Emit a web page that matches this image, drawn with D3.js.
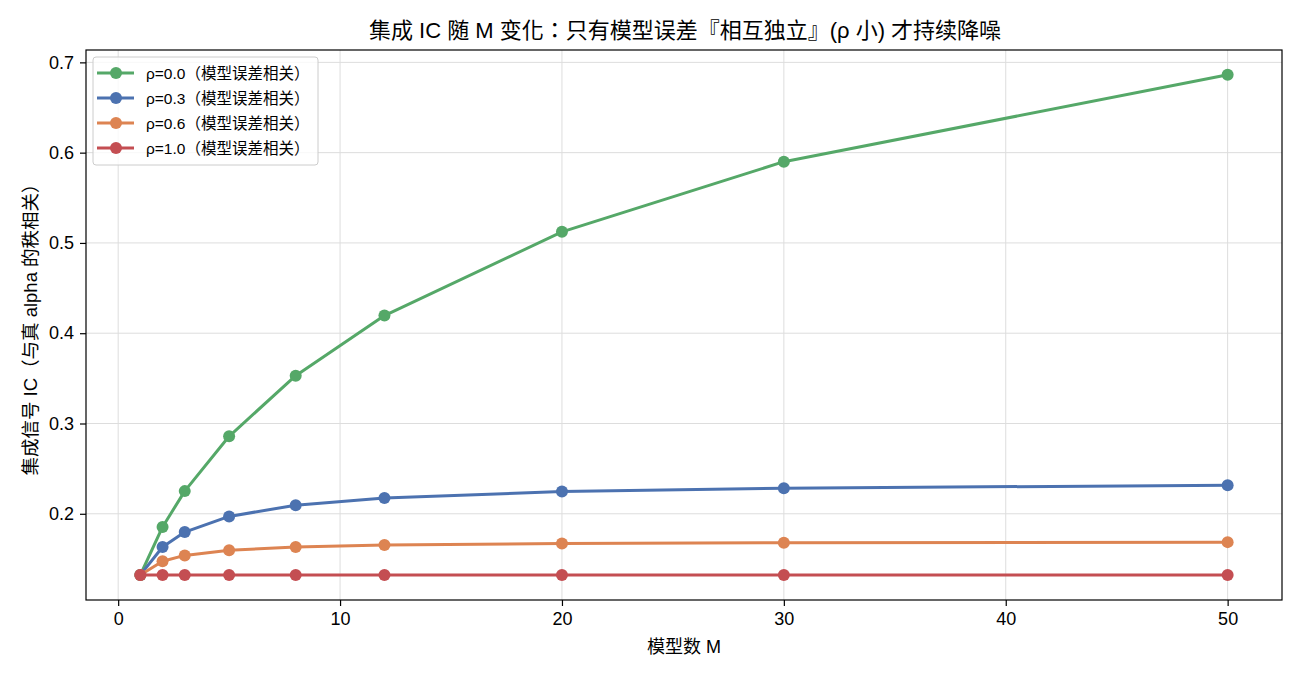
<!DOCTYPE html>
<html><head><meta charset="utf-8">
<script src="https://cdn.jsdelivr.net/npm/d3@7"></script>
<style>
body{margin:0;background:#fff;}
text{font-family:"Liberation Sans","Noto Sans CJK TC",Arial,sans-serif;fill:#000;}
</style></head>
<body><svg id="c" width="1300" height="676"></svg>
<script>
const models = [1, 2, 3, 5, 8, 12, 20, 30, 50];
const rho00 = [0.1322, 0.1854, 0.2251, 0.2858, 0.3530, 0.4195, 0.5123, 0.5900, 0.6862];
const rho03 = [0.1322, 0.1632, 0.1797, 0.1971, 0.2095, 0.2175, 0.2246, 0.2284, 0.2316];
const rho06 = [0.1322, 0.1475, 0.1539, 0.1597, 0.1632, 0.1653, 0.1670, 0.1679, 0.1686];
const rho10 = [0.1322, 0.1322, 0.1322, 0.1322, 0.1322, 0.1322, 0.1322, 0.1322, 0.1322];
const seriesNames = ["ρ=0.0（模型误差相关）", "ρ=0.3（模型误差相关）", "ρ=0.6（模型误差相关）", "ρ=1.0（模型误差相关）"];
const colors = ["#55a868", "#4c72b0", "#dd8452", "#c44e52"];
const xTicks = [0, 10, 20, 30, 40, 50];
const yTicks = [0.2, 0.3, 0.4, 0.5, 0.6, 0.7];
const titleText = "集成 IC 随 M 变化：只有模型误差『相互独立』(ρ 小) 才持续降噪";
const xLabel = "模型数 M";
const yLabel = "集成信号 IC（与真 alpha 的秩相关）";

const series = [rho00, rho03, rho06, rho10];
const L = 86, R = 1282, T = 50, B = 600;
const svg = d3.select("#c");
const x = d3.scaleLinear().domain([-1.45, 52.45]).range([L, R]);
const y = d3.scaleLinear().domain([0.1045, 0.7137]).range([B, T]);

// grid
const g = svg.append("g");
g.selectAll(".gx").data(xTicks).enter().append("line")
  .attr("x1", d => x(d)).attr("x2", d => x(d)).attr("y1", T).attr("y2", B)
  .attr("stroke", "#dddddd").attr("stroke-width", 1);
g.selectAll(".gy").data(yTicks).enter().append("line")
  .attr("y1", d => y(d)).attr("y2", d => y(d)).attr("x1", L).attr("x2", R)
  .attr("stroke", "#dddddd").attr("stroke-width", 1);

// axes
const xAxis = d3.axisBottom(x).tickValues(xTicks).tickFormat(d3.format("d")).tickSize(6).tickPadding(6);
const yAxis = d3.axisLeft(y).tickValues(yTicks).tickFormat(d3.format(".1f")).tickSize(6).tickPadding(6);
const gx = svg.append("g").attr("transform", `translate(0,${B})`).call(xAxis);
const gy = svg.append("g").attr("transform", `translate(${L},0)`).call(yAxis);
[gx, gy].forEach(a => {
  a.select(".domain").remove();
  a.selectAll("text").style("font-size", "18px").attr("fill", "#000");
  a.selectAll("line").attr("stroke", "#000").attr("stroke-width", 1.2);
});

// lines
const line = d3.line().x((d, i) => x(models[i])).y(d => y(d));
series.forEach((s, k) => {
  svg.append("path").datum(s).attr("d", line).attr("fill", "none")
    .attr("stroke", colors[k]).attr("stroke-width", 3).attr("stroke-linejoin", "round").attr("stroke-linecap", "square");
  svg.selectAll(null).data(s).enter().append("circle")
    .attr("cx", (d, i) => x(models[i])).attr("cy", d => y(d)).attr("r", 6).attr("fill", colors[k]);
});

// frame
svg.append("rect").attr("x", L).attr("y", T).attr("width", R - L).attr("height", B - T)
  .attr("fill", "none").attr("stroke", "#000").attr("stroke-width", 1.2);

// title & labels
svg.append("text").attr("x", (L + R) / 2 + 1).attr("y", 38).attr("text-anchor", "middle")
  .style("font-size", "22px").text(titleText);
svg.append("text").attr("x", (L + R) / 2).attr("y", 653).attr("text-anchor", "middle")
  .style("font-size", "18px").text(xLabel);
svg.append("text").attr("transform", `translate(37,${(T + B) / 2}) rotate(-90)`).attr("text-anchor", "middle")
  .style("font-size", "18.5px").text(yLabel);

// legend
const lg = svg.append("g");
lg.append("rect").attr("x", 93).attr("y", 57).attr("width", 225).attr("height", 108).attr("rx", 3)
  .attr("fill", "#fff").attr("fill-opacity", 0.8).attr("stroke", "#cccccc").attr("stroke-width", 1);
seriesNames.forEach((n, k) => {
  const yy = 73 + k * 25;
  lg.append("line").attr("x1", 97).attr("x2", 134).attr("y1", yy).attr("y2", yy)
    .attr("stroke", colors[k]).attr("stroke-width", 3);
  lg.append("circle").attr("cx", 116).attr("cy", yy).attr("r", 6).attr("fill", colors[k]);
  lg.append("text").attr("x", 146).attr("y", yy + 5.5).style("font-size", "15.5px").text(n);
});
</script></body></html>
